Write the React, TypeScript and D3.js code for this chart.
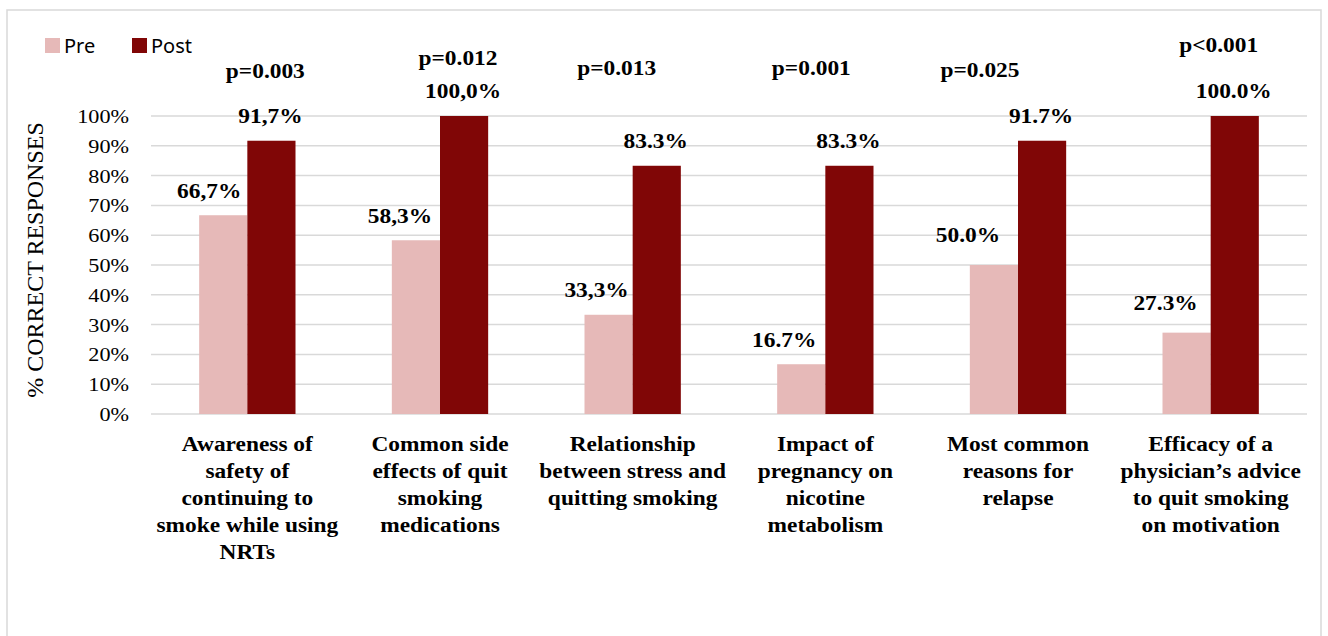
import * as d3 from 'd3'

const categories = [
  ['Awareness of', 'safety of', 'continuing to', 'smoke while using', 'NRTs'],
  ['Common side', 'effects of quit', 'smoking', 'medications'],
  ['Relationship', 'between stress and', 'quitting smoking'],
  ['Impact of', 'pregnancy on', 'nicotine', 'metabolism'],
  ['Most common', 'reasons for', 'relapse'],
  ['Efficacy of a', 'physician\u2019s advice', 'to quit smoking', 'on motivation'],
]
const preValues = [66.7, 58.3, 33.3, 16.7, 50.0, 27.3]
const postValues = [91.7, 100.0, 83.3, 83.3, 91.7, 100.0]
const preLabels = ['66,7%', '58,3%', '33,3%', '16.7%', '50.0%', '27.3%']
const postLabels = ['91,7%', '100,0%', '83.3%', '83.3%', '91.7%', '100.0%']
const pValues = ['p=0.003', 'p=0.012', 'p=0.013', 'p=0.001', 'p=0.025', 'p<0.001']
const yTicks = [0, 10, 20, 30, 40, 50, 60, 70, 80, 90, 100]

// hand placed notes: x shift from the group centre, height in % units
const pNoteDx = [18, 18, -16, -14, -38, 8]
const pNoteLevel = [112.7, 117, 113.7, 113.7, 113, 121.4]
// pre labels were dragged a bit left / up in the source
const preLabelDx = [-14, -16, -12, -17, -26, -21]
const preLabelGap = [17, 17, 18, 17, 23, 23]

const PRE = '#E6B9B8'
const POST = '#800606'
const GRID = '#D9D9D9'
const SERIF = '"Liberation Serif", "Times New Roman", serif'
const SX = 1.17 // the source is a little stretched sideways

const W = 1328
const H = 636
const plot = { left: 151, right: 1307, top: 116, bottom: 414 }

function SText({ x, y, size, bold, anchor = 'middle', children }: any) {
  return (
    <text
      transform={`translate(${x},${y}) scale(${SX},1)`}
      textAnchor={anchor}
      fontFamily={SERIF}
      fontSize={size}
      fontWeight={bold ? 'bold' : 'normal'}
      fill="#000"
    >
      {children}
    </text>
  )
}

export default function App() {
  const idx = categories.map((_, i) => String(i))
  const x0 = d3.scaleBand<string>().domain(idx).range([plot.left, plot.right]).padding(0)
  const x1 = d3
    .scaleBand<string>()
    .domain(['pre', 'post'])
    .range([0, x0.bandwidth()])
    .paddingInner(0)
    .paddingOuter(1)
  const y = d3.scaleLinear().domain([0, 100]).range([plot.bottom, plot.top])
  const bw = x1.bandwidth()

  return (
    <svg
      width={W}
      height={H}
      style={{ position: 'absolute', left: 0, top: 0, background: '#fff' }}
    >
      <rect x={7} y={10} width={1314} height={640} fill="#fff" stroke={GRID} strokeWidth={1.5} />

      {/* legend */}
      <rect x={45} y={38} width={15} height={15} fill={PRE} />
      <text x={64} y={53} fontFamily='"Noto Sans", sans-serif' fontSize={20} fill="#000">Pre</text>
      <rect x={132} y={38} width={15} height={15} fill={POST} />
      <text x={151} y={53} fontFamily='"Noto Sans", sans-serif' fontSize={20} fill="#000">Post</text>

      {/* gridlines + y ticks */}
      {yTicks.map((t) => (
        <g key={t}>
          <line x1={plot.left} x2={plot.right} y1={y(t)} y2={y(t)} stroke={GRID} strokeWidth={1.5} />
          <SText x={129} y={y(t) + 7} size={19} anchor="end">{`${t}%`}</SText>
        </g>
      ))}

      <text
        transform={`translate(43,${(plot.top + plot.bottom) / 2 - 5}) rotate(-90)`}
        textAnchor="middle"
        fontFamily={SERIF}
        fontSize={24}
        fill="#000"
      >
        % CORRECT RESPONSES
      </text>

      {/* bars */}
      {idx.map((k, i) => {
        const gx = x0(k)!
        return (
          <g key={k}>
            <rect x={gx + x1('pre')!} y={y(preValues[i])} width={bw} height={y(0) - y(preValues[i])} fill={PRE} />
            <rect x={gx + x1('post')!} y={y(postValues[i])} width={bw} height={y(0) - y(postValues[i])} fill={POST} />
          </g>
        )
      })}

      {/* value labels + p notes */}
      {idx.map((k, i) => {
        const gx = x0(k)!
        return (
          <g key={'l' + k}>
            <SText
              x={gx + x1('pre')! + bw / 2 + preLabelDx[i]}
              y={y(preValues[i]) - preLabelGap[i]}
              size={20}
              bold
            >
              {preLabels[i]}
            </SText>
            <SText x={gx + x1('post')! + bw / 2 - 1} y={y(postValues[i]) - 18} size={20} bold>
              {postLabels[i]}
            </SText>
            <SText x={gx + x0.bandwidth() / 2 + pNoteDx[i]} y={y(pNoteLevel[i])} size={20} bold>
              {pValues[i]}
            </SText>
          </g>
        )
      })}

      {/* category labels */}
      {categories.map((lines, i) => {
        const cx = x0(String(i))! + x0.bandwidth() / 2
        return (
          <g key={'c' + i}>
            {lines.map((ln, j) => (
              <SText key={j} x={cx} y={451 + j * 27} size={20} bold>
                {ln}
              </SText>
            ))}
          </g>
        )
      })}
    </svg>
  )
}
